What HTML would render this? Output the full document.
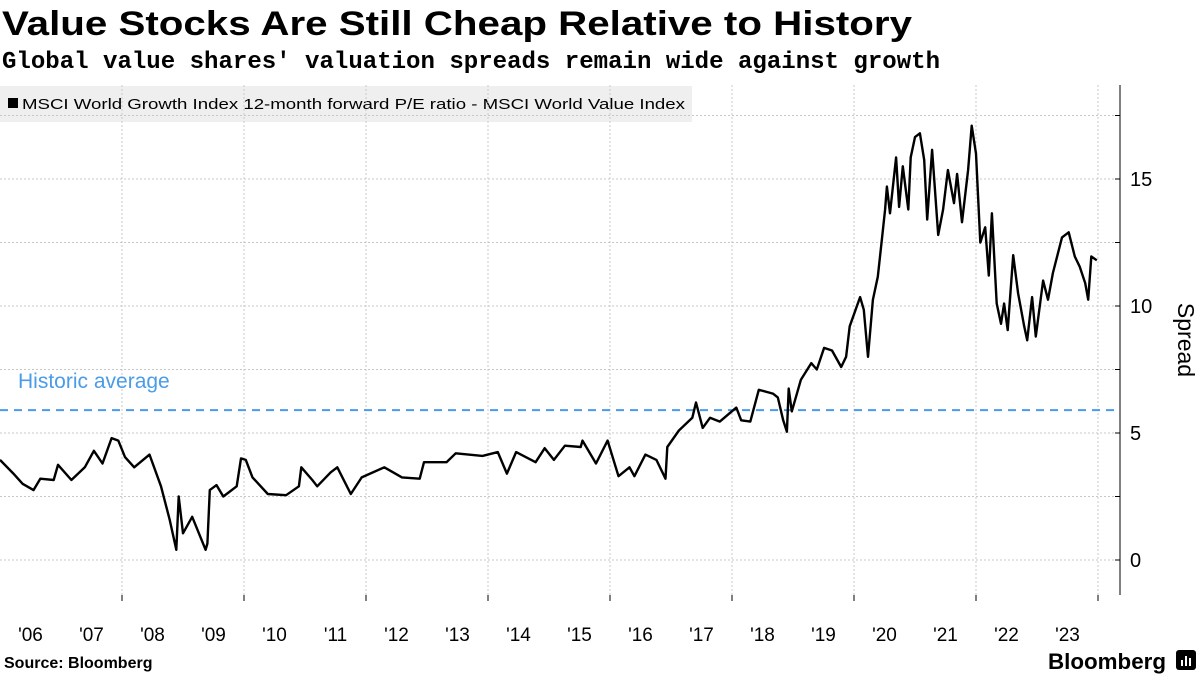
<!DOCTYPE html>
<html><head><meta charset="utf-8"><style>
body{margin:0;background:#fff;}
svg{display:block;font-family:"Liberation Sans",sans-serif;}
</style></head><body>
<svg id="chart" width="1200" height="675" viewBox="0 0 1200 675" xmlns="http://www.w3.org/2000/svg">
<text x="2" y="35" font-size="34" font-weight="bold" textLength="910" lengthAdjust="spacingAndGlyphs">Value Stocks Are Still Cheap Relative to History</text>
<text x="2" y="68" font-family="Liberation Mono, monospace" font-size="24" font-weight="bold" textLength="938" lengthAdjust="spacingAndGlyphs">Global value shares' valuation spreads remain wide against growth</text>
<g>
<rect x="0" y="86" width="692" height="36" fill="#efefef"/>
<rect x="8" y="98" width="10" height="10" fill="#000"/>
<text x="22" y="109" font-size="15" textLength="663" lengthAdjust="spacingAndGlyphs">MSCI World Growth Index 12-month forward P/E ratio - MSCI World Value Index</text>
</g>
<g id="grid"></g>
<g id="axes"></g>
<g id="series"></g>
<text transform="translate(1178,340) rotate(90)" font-size="23" text-anchor="middle">Spread</text>
<text x="4" y="668" font-size="16" font-weight="bold">Source: Bloomberg</text>
<g>
<text x="1166" y="669" font-size="22" font-weight="bold" text-anchor="end" textLength="118" lengthAdjust="spacingAndGlyphs">Bloomberg</text>
<rect x="1176" y="650" width="20" height="20" rx="3" fill="#000"/>
<rect x="1181" y="660" width="2" height="6" fill="#fff"/><rect x="1185" y="656" width="2" height="10" fill="#fff"/><rect x="1189" y="658" width="2" height="8" fill="#fff"/>
</g>
</svg>
<script>
const years = [2006.00,2006.22,2006.37,2006.55,2006.66,2006.88,2006.95,2007.17,2007.39,2007.54,2007.68,2007.83,2007.94,2008.05,2008.20,2008.45,2008.64,2008.78,2008.89,2008.93,2009.00,2009.15,2009.26,2009.37,2009.40,2009.44,2009.55,2009.66,2009.88,2009.95,2010.03,2010.14,2010.39,2010.69,2010.90,2010.94,2011.12,2011.20,2011.42,2011.53,2011.75,2011.93,2012.30,2012.59,2012.88,2012.95,2013.32,2013.47,2013.91,2014.16,2014.31,2014.46,2014.78,2014.93,2015.08,2015.26,2015.52,2015.55,2015.77,2015.96,2016.14,2016.32,2016.40,2016.58,2016.76,2016.91,2016.94,2017.13,2017.35,
2017.41,2017.52,2017.64,2017.80,2018.07,2018.15,2018.30,2018.44,2018.67,2018.75,2018.84,2018.90,2018.93,2018.98,2019.13,2019.30,2019.39,2019.51,2019.64,2019.79,2019.87,2019.93,2020.10,2020.16,2020.23,2020.31,2020.39,2020.46,2020.51,2020.54,2020.59,2020.69,2020.74,2020.80,2020.89,2020.93,2021.00,2021.08,2021.15,2021.20,2021.28,2021.38,2021.46,2021.54,2021.64,2021.69,2021.77,2021.87,2021.93,2022.00,2022.07,2022.15,2022.21,2022.26,2022.34,2022.41,2022.46,2022.52,2022.61,2022.69,2022.79,2022.84,2022.92,2022.98,2023.10,2023.18,2023.26,2023.41,2023.52,2023.62,2023.70,2023.79,2023.84,2023.89,2023.98];
const spread = [3.94,3.4,3.0,2.75,3.2,3.15,3.75,3.15,3.65,4.3,3.8,4.8,4.7,4.05,3.65,4.15,2.9,1.6,0.4,2.5,1.05,1.7,1.05,0.4,0.65,2.75,2.95,2.5,2.9,4.0,3.94,3.25,2.6,2.55,2.9,3.65,3.15,2.9,3.45,3.65,2.6,3.25,3.65,3.25,3.2,3.85,3.85,4.2,4.1,4.25,3.4,4.25,3.85,4.4,3.94,4.5,4.45,4.7,3.8,4.7,3.3,3.65,3.3,4.15,3.94,3.2,4.45,5.1,5.6,
6.2,5.2,5.6,5.45,6.0,5.5,5.45,6.7,6.55,6.4,5.5,5.05,6.75,5.85,7.1,7.75,7.5,8.35,8.25,7.6,8.0,9.2,10.35,9.85,8.0,10.25,11.15,12.7,13.8,14.7,13.65,15.85,13.9,15.5,13.8,15.85,16.65,16.8,15.75,13.4,16.15,12.8,13.8,15.35,14.05,15.2,13.3,15.35,17.1,16.0,12.5,13.1,11.2,13.65,10.1,9.3,10.1,9.05,12.0,10.5,9.2,8.65,10.35,8.8,11.0,10.25,11.3,12.7,12.9,11.95,11.55,10.9,10.25,11.95,11.8];
const yTicks = [0,5,10,15];
const yGrid = [0,2.5,5,7.5,10,12.5,15,17.5];
const xLabels = ["'06","'07","'08","'09","'10","'11","'12","'13","'14","'15","'16","'17","'18","'19","'20","'21","'22","'23"];
const xGridYears = [2008,2010,2012,2014,2016,2018,2020,2022,2024];
const historicAvg = [5.9];

const NS="http://www.w3.org/2000/svg";
const X0=0, PX_PER_YEAR=61, Y0=560, PX_PER_UNIT=25.4, RIGHT=1120, TOP=85, BOTTOM=595;
function xs(y){return X0+(y-2006)*PX_PER_YEAR;}
function ys(v){return Y0-v*PX_PER_UNIT;}
function mk(tag,attrs,parent){const e=document.createElementNS(NS,tag);for(const k in attrs)e.setAttribute(k,attrs[k]);parent.appendChild(e);return e;}
const grid=document.getElementById('grid'),axes=document.getElementById('axes'),series=document.getElementById('series');
yGrid.forEach(v=>{
  const l=mk('line',{x1:0,x2:RIGHT,y1:ys(v),y2:ys(v),stroke:'#c8c8c8','stroke-width':1,'stroke-dasharray':'2,2'},grid);
  
  
  const t=mk('line',{x1:RIGHT-5,x2:RIGHT,y1:ys(v),y2:ys(v),stroke:'#000','stroke-width':1},axes);
  
  
});
xGridYears.forEach(yr=>{
  const l=mk('line',{x1:xs(yr),x2:xs(yr),y1:TOP,y2:BOTTOM,stroke:'#c8c8c8','stroke-width':1,'stroke-dasharray':'2,2'},grid);
  
  
  const t=mk('line',{x1:xs(yr),x2:xs(yr),y1:BOTTOM,y2:BOTTOM+6,stroke:'#000','stroke-width':1},axes);
  
  
});
const ax=mk('line',{x1:RIGHT,x2:RIGHT,y1:TOP,y2:BOTTOM,stroke:'#000','stroke-width':1},axes);


yTicks.forEach(v=>{
  const t=mk('text',{x:RIGHT+10,y:ys(v)+7,'font-size':20},axes);
  t.textContent=v;
  
  
});
xLabels.forEach((s,i)=>{
  const t=mk('text',{x:xs(2006+i+0.5),y:641,'font-size':19,'text-anchor':'middle'},axes);
  t.textContent=s;
  
  
});
const avg=mk('line',{x1:0,x2:RIGHT,y1:ys(historicAvg[0]),y2:ys(historicAvg[0]),stroke:'#4a9ce8','stroke-width':2,'stroke-dasharray':'8,6'},series);


const al=mk('text',{x:18,y:ys(historicAvg[0])-22,'font-size':21,fill:'#4a9ce8'},series);
al.textContent='Historic average';


const d=years.map((y,i)=>(i?'L':'M')+xs(y).toFixed(1)+','+ys(spread[i]).toFixed(1)).join('');
const p=mk('path',{d:d,fill:'none',stroke:'#000','stroke-width':2.4,'stroke-linejoin':'round'},series);


</script>
</body></html>
